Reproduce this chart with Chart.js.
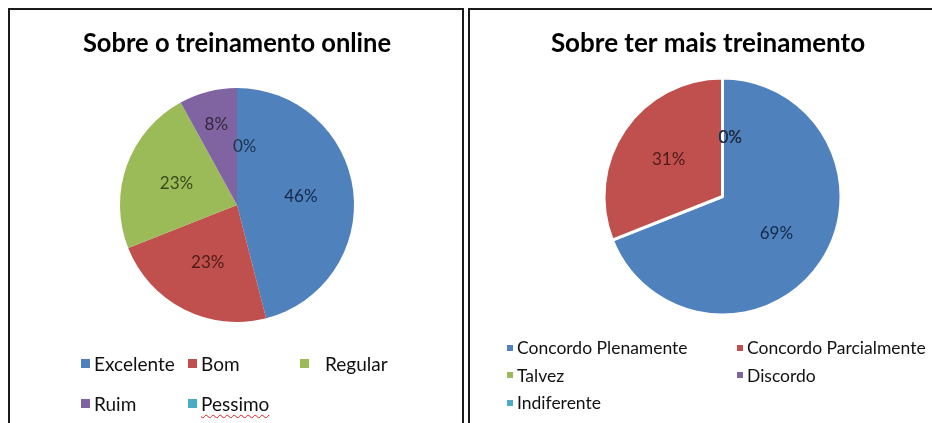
<!DOCTYPE html>
<html>
<head>
<meta charset="utf-8">
<script src="https://cdn.jsdelivr.net/npm/chart.js@4.4.1/dist/chart.umd.min.js"></script>
<style>
  body { margin: 0; background: #fff; width: 932px; height: 423px; overflow: hidden; position: relative; font-family: Lato, "Open Sans", sans-serif; }
  .panel { position: absolute; top: 8px; height: 440px; border: 2px solid #1a1a1a; border-bottom: none; background: #fff; }
  #panel1 { left: 8px; width: 452px; }
  #panel2 { left: 468px; width: 470px; border-right: none; }
  .panel canvas { position: absolute; left: 0; top: 0; }
  .legend { position: absolute; display: grid; color: #111; }
  #legend1 { left: 71px; top: 333px; grid-template-columns: 107px 112px auto; grid-auto-rows: 40px; font-size: 19px; }
  #legend2 { left: 37px; top: 324px; grid-template-columns: 230px auto; grid-auto-rows: 27.5px; font-size: 17.5px; }
  .item { display: flex; align-items: center; white-space: nowrap; }
  #legend1 .sw { width: 9px; height: 9px; margin-right: 4px; }
  #legend1 .item:nth-child(3) .sw { margin-right: 16px; }
  #legend2 .sw { width: 6px; height: 6px; margin-right: 4px; }
  .typo { text-decoration: underline wavy #e02020; text-decoration-thickness: 1px; text-underline-offset: 3px; }
</style>
</head>
<body>
<div class="panel" id="panel1">
  <canvas id="chart1" width="452" height="413"></canvas>
  <div class="legend" id="legend1"></div>
</div>
<div class="panel" id="panel2">
  <canvas id="chart2" width="462" height="413"></canvas>
  <div class="legend" id="legend2"></div>
</div>
<script>
// data
var title1 = 'Sobre o treinamento online';
var labels1 = ['Excelente', 'Bom', 'Regular', 'Ruim', 'Pessimo'];
var values1 = [46, 23, 23, 8, 0];

var title2 = 'Sobre ter mais treinamento';
var labels2 = ['Concordo Plenamente', 'Concordo Parcialmente', 'Talvez', 'Discordo', 'Indiferente'];
var values2 = [69, 31, 0, 0, 0];

var sliceColors = ['#4F81BD', '#C0504D', '#9BBB59', '#8064A2', '#4BACC6'];
var labelColors = ['#14294A', '#4E1A19', '#3A4A1C', '#33263F', '#1C3350'];

var titleFont = { family: 'Lato', size: 26, weight: 'bold' };

// percentage labels inside the slices
var pieLabels = {
    id: 'pieLabels',
    afterDatasetsDraw: function(chart, args, opts) {
        var ctx = chart.ctx;
        var ds = chart.data.datasets[0];
        var meta = chart.getDatasetMeta(0);
        var total = ds.data.reduce(function(a, b) { return a + b; }, 0);
        ctx.save();
        ctx.font = opts.font;
        ctx.textBaseline = 'middle';
        meta.data.forEach(function(arc, i) {
            var v = ds.data[i];
            var p = arc.getProps(['x', 'y', 'startAngle', 'endAngle', 'outerRadius'], true);
            var mid = (p.startAngle + p.endAngle) / 2;
            var r = p.outerRadius * (v === 0 ? 0.5 : (v < 10 ? 0.71 : 0.55));
            var x = p.x + Math.cos(mid) * r;
            var y = p.y + Math.sin(mid) * r;
            ctx.textAlign = 'center';
            if (v === 0) { ctx.textAlign = 'left'; x = p.x - 4; }
            ctx.fillStyle = labelColors[i];
            ctx.fillText(Math.round(v / total * 100) + '%', x, y);
        });
        ctx.restore();
    }
};

// legend written as html under the chart
var htmlLegend = {
    id: 'htmlLegend',
    afterUpdate: function(chart, args, opts) {
        var box = document.getElementById(opts.containerID);
        box.innerHTML = '';
        var items = chart.options.plugins.legend.labels.generateLabels(chart);
        items.forEach(function(item) {
            var div = document.createElement('div');
            div.className = 'item';
            var sw = document.createElement('span');
            sw.className = 'sw';
            sw.style.background = item.fillStyle;
            var tx = document.createElement('span');
            tx.textContent = item.text;
            if ((opts.typos || []).indexOf(item.text) >= 0) tx.className = 'typo';
            div.appendChild(sw);
            div.appendChild(tx);
            box.appendChild(div);
        });
    }
};

function titleLeft(text, centerX) {
    var c = document.createElement('canvas').getContext('2d');
    c.font = 'bold ' + titleFont.size + 'px ' + titleFont.family;
    return centerX - c.measureText(text).width / 2;
}

function makePie(id, title, labels, values, opt) {
    var left = titleLeft(title, opt.titleX);
    var right = opt.width - (2 * opt.pieX - left);
    return new Chart(document.getElementById(id), {
        type: 'pie',
        data: {
            labels: labels,
            datasets: [{
                data: values,
                backgroundColor: sliceColors,
                borderColor: '#ffffff',
                borderWidth: opt.border
            }]
        },
        options: {
            responsive: false,
            animation: false,
            layout: { padding: { left: left, right: right, top: 0, bottom: opt.bottom } },
            plugins: {
                title: {
                    display: true,
                    text: title,
                    align: 'start',
                    color: '#000',
                    font: titleFont,
                    padding: { top: 18, bottom: opt.titleGap }
                },
                legend: { display: false },
                tooltip: { enabled: false },
                pieLabels: { font: '17px Lato' },
                htmlLegend: { containerID: opt.legend, typos: ['Pessimo'] }
            }
        },
        plugins: [pieLabels, htmlLegend]
    });
}

makePie('chart1', title1, labels1, values1, {
    width: 452, titleX: 230, pieX: 227, border: 0, titleGap: 28.8, bottom: 101, legend: 'legend1'
});
makePie('chart2', title2, labels2, values2, {
    width: 462, titleX: 238, pieX: 252.5, border: 3, titleGap: 17.3, bottom: 106.5, legend: 'legend2'
});
</script>
</body>
</html>
